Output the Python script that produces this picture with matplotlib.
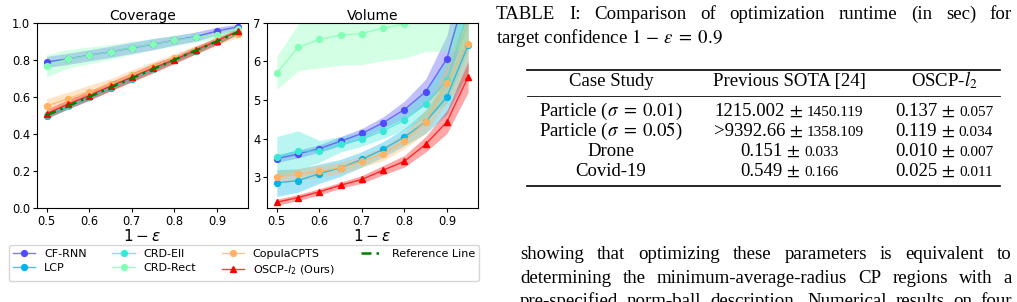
import numpy as np
import matplotlib
matplotlib.use("Agg")
import matplotlib.pyplot as plt
from matplotlib.lines import Line2D

# ---------------- data ----------------
conf_levels = [0.5, 0.55, 0.6, 0.65, 0.7, 0.75, 0.8, 0.85, 0.9, 0.95]
method_names = ["CF-RNN", "LCP", "CRD-Ell", "CRD-Rect", "CopulaCPTS", "OSCP-$l_2$ (Ours)"]

cov_cfrnn = [0.788, 0.805, 0.824, 0.843, 0.864, 0.884, 0.905, 0.925, 0.955, 0.978]
cov_lcp = [0.497, 0.548, 0.597, 0.648, 0.698, 0.748, 0.798, 0.848, 0.898, 0.948]
cov_crdell = [0.502, 0.551, 0.601, 0.651, 0.701, 0.751, 0.801, 0.851, 0.901, 0.951]
cov_crdrect = [0.768, 0.805, 0.823, 0.843, 0.865, 0.885, 0.904, 0.922, 0.932, 0.968]
cov_copula = [0.550, 0.590, 0.628, 0.668, 0.716, 0.760, 0.808, 0.853, 0.902, 0.940]
cov_oscp = [0.508, 0.560, 0.606, 0.657, 0.705, 0.755, 0.800, 0.852, 0.902, 0.955]

cov_std_cfrnn = [0.03, 0.03, 0.03, 0.03, 0.03, 0.03, 0.025, 0.025, 0.02, 0.015]
cov_std_lcp = [0.015, 0.015, 0.015, 0.015, 0.015, 0.015, 0.015, 0.015, 0.015, 0.01]
cov_std_crdell = [0.015, 0.015, 0.015, 0.015, 0.015, 0.015, 0.015, 0.015, 0.015, 0.01]
cov_std_crdrect = [0.06, 0.05, 0.045, 0.04, 0.035, 0.03, 0.03, 0.025, 0.02, 0.02]
cov_std_copula = [0.04, 0.035, 0.035, 0.03, 0.03, 0.03, 0.025, 0.025, 0.02, 0.02]
cov_std_oscp = [0.025, 0.025, 0.025, 0.025, 0.025, 0.025, 0.02, 0.02, 0.02, 0.015]

vol_cfrnn = [3.48, 3.60, 3.74, 3.93, 4.13, 4.41, 4.75, 5.21, 6.07, 8.00]
vol_lcp = [2.85, 2.91, 3.09, 3.24, 3.46, 3.72, 4.04, 4.43, 5.08, 6.42]
vol_crdell = [3.53, 3.68, 3.67, 3.85, 3.98, 4.20, 4.48, 4.89, 5.51, 7.30]
vol_crdrect = [5.70, 6.36, 6.57, 6.68, 6.72, 6.86, 6.96, 7.20, 7.50, 8.20]
vol_copula = [3.01, 3.07, 3.15, 3.24, 3.41, 3.61, 3.94, 4.44, 5.43, 6.46]
vol_oscp = [2.35, 2.47, 2.62, 2.79, 2.94, 3.18, 3.41, 3.85, 4.43, 5.60]

vol_std_cfrnn = [0.10, 0.10, 0.10, 0.12, 0.13, 0.15, 0.22, 0.33, 0.60, 1.00]
vol_std_lcp = [0.35, 0.30, 0.25, 0.22, 0.20, 0.20, 0.22, 0.30, 0.45, 0.70]
vol_std_crdell = [0.52, 0.52, 0.28, 0.20, 0.18, 0.20, 0.25, 0.35, 0.60, 1.00]
vol_std_crdrect = [0.43, 0.60, 0.74, 0.78, 0.80, 0.84, 0.88, 0.94, 1.24, 1.90]
vol_std_copula = [0.15, 0.15, 0.15, 0.15, 0.15, 0.18, 0.20, 0.30, 0.50, 0.80]
vol_std_oscp = [0.08, 0.08, 0.08, 0.08, 0.10, 0.12, 0.15, 0.20, 0.30, 0.40]

# table
table_caption = ["TABLE I: Comparison of optimization runtime (in sec) for",
                 "target confidence $1\\,-\\,\\epsilon\\;=\\;0.9$"]
table_header = ["Case Study", "Previous SOTA [24]", "OSCP-$l_2$"]
case_studies = ["Particle ($\\sigma\\;=\\;0.01$)", "Particle ($\\sigma\\;=\\;0.05$)", "Drone", "Covid-19"]
sota_mean = ["1215.002", ">9392.66", "0.151", "0.549"]
sota_std = ["1450.119", "1358.109", "0.033", "0.166"]
oscp_mean = ["0.137", "0.119", "0.010", "0.025"]
oscp_std = ["0.057", "0.034", "0.007", "0.011"]
body_lines = ["showing that optimizing these parameters is equivalent to",
              "determining the minimum-average-radius CP regions with a",
              "pre-specified norm-ball description. Numerical results on four"]

# ---------------- figure ----------------
W, H = 1017, 302
fig = plt.figure(figsize=(W / 100, H / 100), dpi=100)

def fx(x):
    return x / W

def fy(y):
    return 1 - y / H

cmap = plt.cm.rainbow
colors = [cmap(0.1), cmap(0.25), cmap(0.36), cmap(0.5), cmap(0.75), (1, 0, 0, 1)]
markers = ["o", "o", "o", "o", "o", "^"]

ax1 = fig.add_axes([fx(37), fy(208), fx(211), 185.3 / H])
ax2 = fig.add_axes([fx(267.3), fy(208), fx(210.4), 185.3 / H])

cov_series = [cov_cfrnn, cov_lcp, cov_crdell, cov_crdrect, cov_copula, cov_oscp]
cov_stds = [cov_std_cfrnn, cov_std_lcp, cov_std_crdell, cov_std_crdrect, cov_std_copula, cov_std_oscp]
vol_series = [vol_cfrnn, vol_lcp, vol_crdell, vol_crdrect, vol_copula, vol_oscp]
vol_stds = [vol_std_cfrnn, vol_std_lcp, vol_std_crdell, vol_std_crdrect, vol_std_copula, vol_std_oscp]

x = np.array(conf_levels)
handles = []
for ax, series, stds in [(ax1, cov_series, cov_stds), (ax2, vol_series, vol_stds)]:
    for name, c, m, y, s in zip(method_names, colors, markers, series, stds):
        y = np.array(y)
        s = np.array(s)
        ax.fill_between(x, y - s, y + s, color=c, alpha=0.35, linewidth=0)
        ln, = ax.plot(x, y, color=(c[0], c[1], c[2], 0.75), lw=1.0, marker=m,
                      markersize=4.2, markerfacecolor=c, markeredgecolor=c,
                      label=name)
        if ax is ax1:
            handles.append(ln)

ref, = ax1.plot(x, x, color="green", ls=(0, (4, 2, 1, 2)), lw=1.8, label="Reference Line")
handles.append(ref)

ax1.set_ylim(0, 1.0)
ax2.set_ylim(2.2, 7)
for ax, t in [(ax1, "Coverage"), (ax2, "Volume")]:
    ax.set_title(t, fontsize=10, pad=2)
    ax.set_xlabel("$1-\\varepsilon$", fontsize=11, labelpad=0)
    ax.set_xticks([0.5, 0.6, 0.7, 0.8, 0.9])
    ax.tick_params(labelsize=8.3, length=3, pad=2)
ax2.set_yticks([3, 4, 5, 6, 7])

fig.legend(handles=handles, loc="center", ncol=4,
           bbox_to_anchor=(fx(244), fy(263)), fontsize=8,
           handlelength=2.0, columnspacing=2.3, borderpad=0.4,
           labelspacing=0.35)

# ---------------- table & text ----------------
serif = "Liberation Serif"
renderer = fig.canvas.get_renderer()

def width_of(t):
    bb = t.get_window_extent(renderer)
    return bb.width

def put(s, x, y, size, ha="left"):
    return fig.text(fx(x), fy(y), s, fontsize=size, family=serif,
                    math_fontfamily="stix", ha=ha, va="baseline")

def justify(line, x0, x1, y, size):
    words = line.split(" ")
    ts = [put(w, x0, y, size) for w in words]
    ws = [width_of(t) for t in ts]
    gap = (x1 - x0 - sum(ws)) / (len(words) - 1)
    cx = x0
    for t, w in zip(ts, ws):
        t.set_x(fx(cx))
        cx += w + gap

def runs(parts, xc, y, gap=4.0):
    ts = [put(s, 0, y, sz) for s, sz in parts]
    ws = [width_of(t) for t in ts]
    total = sum(ws) + gap * (len(ws) - 1)
    cx = xc - total / 2
    for t, w in zip(ts, ws):
        t.set_x(fx(cx))
        cx += w + gap

cap_size = 13.6
justify(table_caption[0], 496, 1012, 19, cap_size)
put(table_caption[1], 496, 43, cap_size)

tab_size = 13.5
small = 11
col_x = [611, 789, 944]
fig.add_artist(Line2D([fx(527), fx(1000)], [fy(70), fy(70)], color="black", lw=1.2))
fig.add_artist(Line2D([fx(527), fx(1000)], [fy(96), fy(96)], color="black", lw=0.6))
fig.add_artist(Line2D([fx(527), fx(1000)], [fy(186), fy(186)], color="black", lw=1.2))
for h, cx in zip(table_header, col_x):
    put(h, cx, 86, tab_size, ha="center")
row_y = [116, 136, 156, 176]
for i, yy in enumerate(row_y):
    put(case_studies[i], col_x[0], yy, tab_size, ha="center")
    runs([(sota_mean[i], tab_size), ("$\\pm$", tab_size), (sota_std[i], small)], col_x[1], yy)
    runs([(oscp_mean[i], tab_size), ("$\\pm$", tab_size), (oscp_std[i], small)], col_x[2], yy)

justify(body_lines[0], 520, 1012, 259, cap_size)
justify(body_lines[1], 520, 1012, 283, cap_size)
justify(body_lines[2], 520, 1012, 306, cap_size)

fig.savefig("out.png", dpi=100)
